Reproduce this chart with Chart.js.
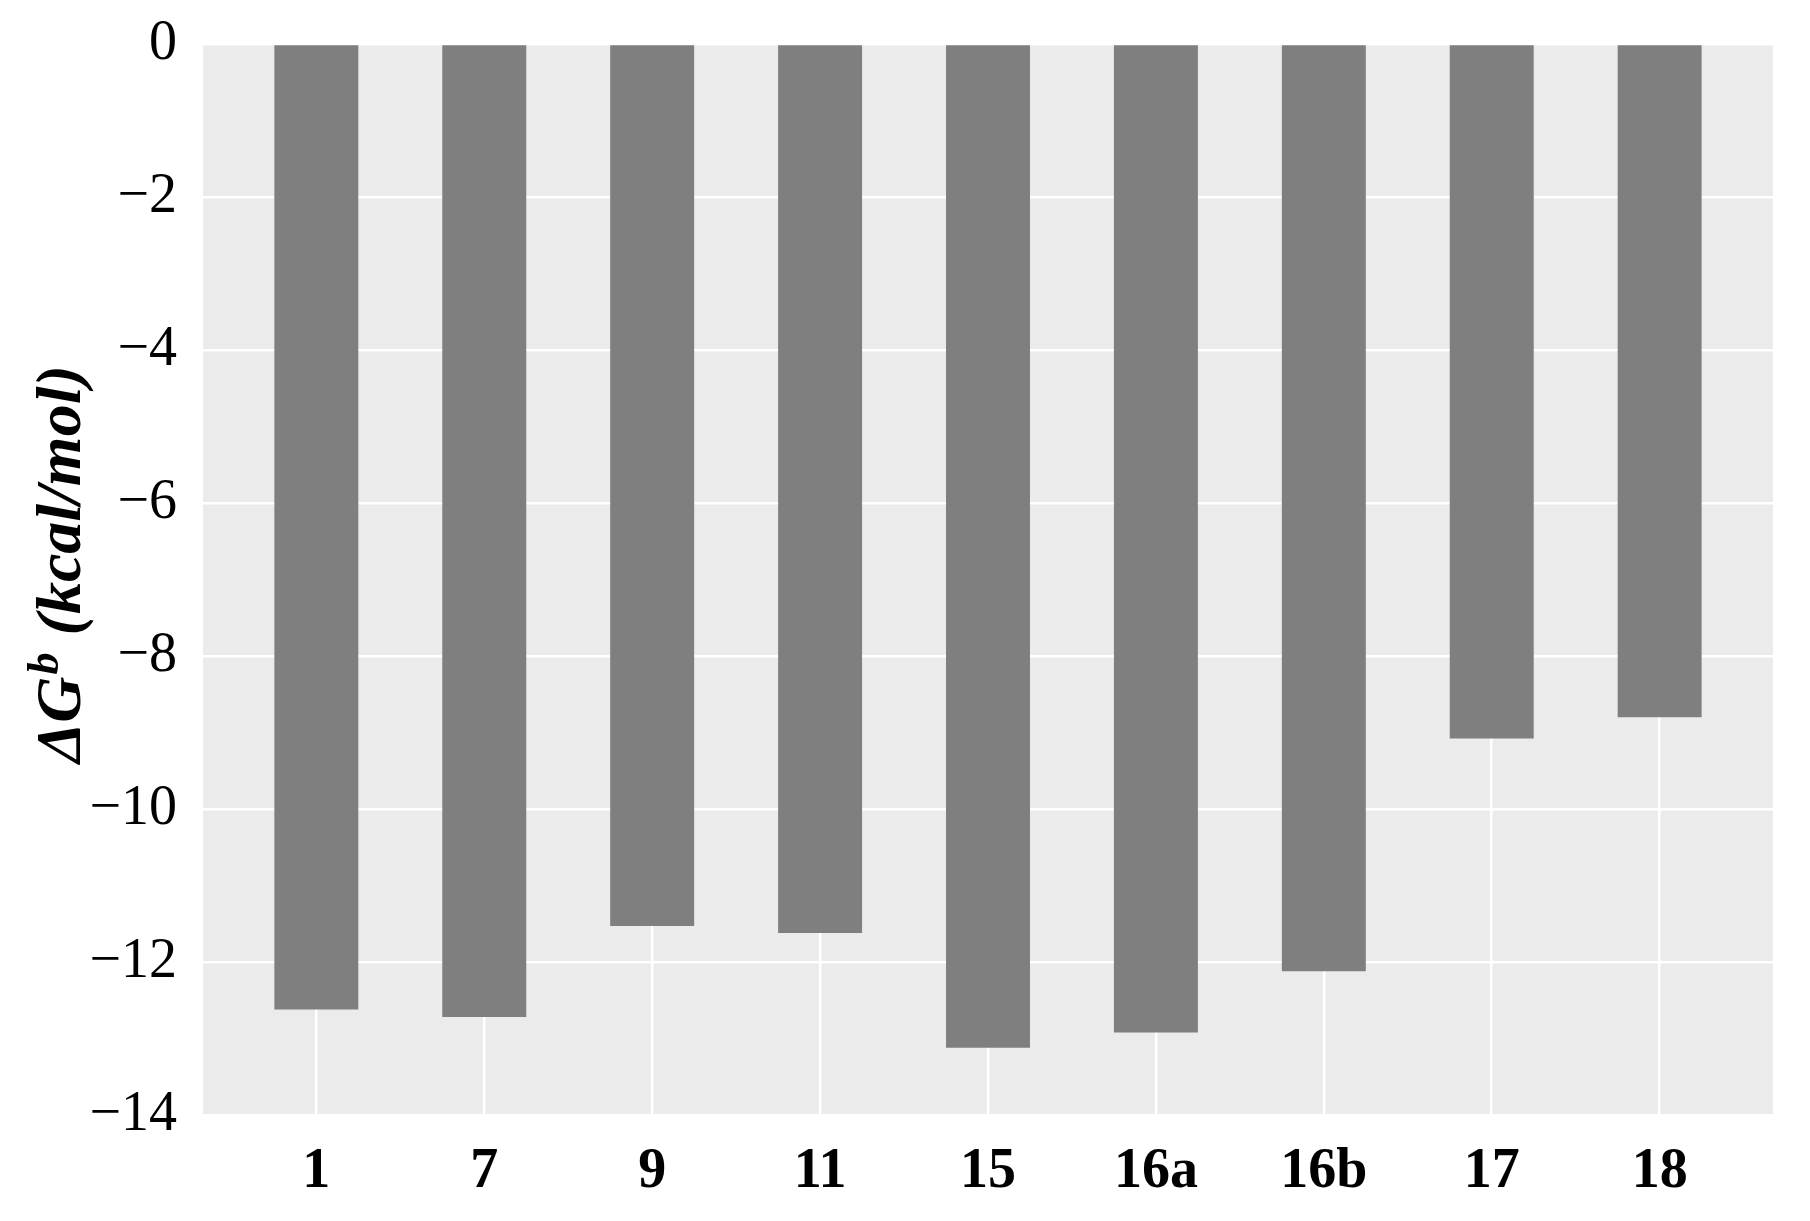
<!DOCTYPE html>
<html>
<head>
<meta charset="utf-8">
<script src="https://cdn.jsdelivr.net/npm/chart.js@4"></script>
<style>
html,body{margin:0;padding:0;background:#fff;}
#wrap{width:1810px;height:1221px;}
</style>
</head>
<body>
<div id="wrap"><canvas id="c" width="1810" height="1221"></canvas></div>
<script>
const categories = ["1", "7", "9", "11", "15", "16a", "16b", "17", "18"];
const deltaG = [-12.62, -12.72, -11.53, -11.62, -13.12, -12.92, -12.12, -9.08, -8.80];
const yTickValues = [0, -2, -4, -6, -8, -10, -12, -14];

const SERIF = '"Liberation Serif", "DejaVu Serif", serif';

const bgPlugin = {
  id: 'panelBg',
  beforeDraw(chart) {
    const {ctx, chartArea: a} = chart;
    ctx.save();
    ctx.fillStyle = '#EBEBEB';
    ctx.fillRect(a.left, a.top, a.right - a.left, a.bottom - a.top);
    ctx.restore();
  }
};

const yTitlePlugin = {
  id: 'yTitle',
  afterDraw(chart) {
    const {ctx} = chart;
    const big = 'italic bold 64px ' + SERIF;
    const small = 'italic bold 44px ' + SERIF;
    const p1 = 'ΔG', p2 = 'b', p3 = ' (kcal/mol)';
    ctx.save();
    ctx.font = big; const w1 = ctx.measureText(p1).width; const w3 = ctx.measureText(p3).width;
    ctx.font = small; const w2 = ctx.measureText(p2).width;
    const total = w1 + w2 + w3 + 3;
    ctx.translate(80, 564);
    ctx.rotate(-Math.PI / 2);
    ctx.fillStyle = '#000';
    ctx.textBaseline = 'alphabetic';
    let x = -total / 2;
    ctx.font = big; ctx.fillText(p1, x, 0); x += w1;
    ctx.font = small; ctx.fillText(p2, x + 2, -22); x += w2 + 3;
    ctx.font = big; ctx.fillText(p3, x, 0);
    ctx.restore();
  }
};

new Chart(document.getElementById('c'), {
  type: 'bar',
  data: {
    datasets: [{
      data: categories.map((c, i) => ({x: i + 1, y: deltaG[i]})),
      backgroundColor: '#7F7F7F',
      borderWidth: 0,
      barPercentage: 0.5,
      categoryPercentage: 1.0
    }]
  },
  options: {
    responsive: false,
    animation: false,
    devicePixelRatio: 1,
    layout: {padding: {left: 0, right: 37, top: 44, bottom: 0}},
    plugins: {legend: {display: false}, tooltip: {enabled: false}},
    scales: {
      x: {
        type: 'linear',
        min: 0.325,
        max: 9.675,
        offset: false,
        afterBuildTicks(scale) { scale.ticks = categories.map((c, i) => ({value: i + 1})); },
        afterFit(scale) { scale.height = 106; scale.paddingLeft = 0; scale.paddingRight = 0; },
        ticks: {
          autoSkip: false,
          maxRotation: 0,
          padding: 24,
          color: '#000',
          font: {family: SERIF, size: 56, weight: 'bold'},
          callback: (v) => categories[Math.round(v) - 1]
        },
        grid: {color: '#FFFFFF', lineWidth: 2.5, drawTicks: false, offset: false},
        border: {display: false}
      },
      y: {
        min: -14,
        max: 0,
        afterBuildTicks(scale) { scale.ticks = yTickValues.map(v => ({value: v})); },
        afterFit(scale) { scale.width = 203; scale.paddingTop = 30; scale.paddingBottom = 30; },
        ticks: {
          padding: 26,
          color: '#000',
          font: {family: SERIF, size: 56},
          callback: (v) => (v < 0 ? '\u2212' + Math.abs(v) : String(v))
        },
        grid: {color: '#FFFFFF', lineWidth: 2.5, drawTicks: false},
        border: {display: false}
      }
    }
  },
  plugins: [bgPlugin, yTitlePlugin]
});
</script>
</body>
</html>
